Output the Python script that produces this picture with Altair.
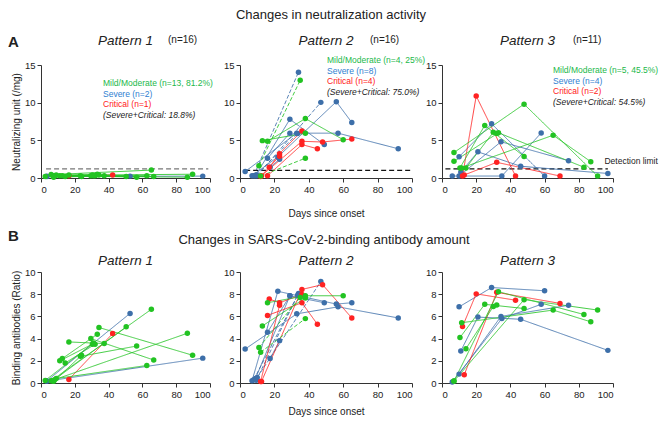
import altair as alt
import pandas as pd

SEVERITY = ["Mild/Moderate", "Severe", "Critical"]
MARK_COLORS = ["#22c322", "#3d6fa9", "#ff2222"]
TEXT_COLORS = ["#22b84a", "#2f80d1", "#ff2020"]
X_TICKS = [0, 20, 40, 60, 80, 100]
NEUT_TICKS = [0, 5, 10, 15]
BIND_TICKS = [0, 2, 4, 6, 8, 10]

M, S, C = "Mild/Moderate", "Severe", "Critical"

# ---------------- Pattern 1 (n=16) ----------------
P1_SEVERITY = [S, S, C] + [M] * 13
P1_DASHED = [0] * 16
P1_DAYS = [[3.3, 52.7], [3.5, 95.7], [16.5, 42.4], [6, 65.3], [7, 50.4], [8, 86.6],
           [9, 62.6], [16.5, 37.4], [11.1, 30.4], [12.6, 33.3], [14.3, 32], [23.3, 56.6],
           [34.3, 89.7], [29.5, 66.7], [2.5, 31], [7.5, 24]]
P1_NEUT = [[0.25, 0.25], [0.2, 0.25], [0.3, 0.4], [0.45, 1.05], [0.3, 0.2], [0.3, 0.1],
           [0.4, 0.3], [0.4, 0.3], [0.3, 0.4], [0.3, 0.5], [0.2, 0.3], [0.3, 0.1],
           [0.4, 0.5], [0.3, 0.2], [0.2, 0.3], [0.1, 0.2]]
P1_BIND = [[0.17, 6.27], [0.17, 2.24], [0.32, 4.45], [0.2, 6.64], [0.2, 5.06], [0.3, 4.48],
           [0.4, 1.58], [3.7, 3.55], [2.0, 3.5], [2.2, 4.4], [1.8, 3.5], [2.4, 3.33],
           [5.0, 2.5], [4.0, 2.07], [0.23, 3.6], [0.15, 2.5]]

# ---------------- Pattern 2 (n=16) ----------------
P2_SEVERITY = [S] * 8 + [C] * 4 + [M] * 4
P2_DASHED = [0, 1, 0, 1, 0, 0, 0, 1, 0, 0, 0, 0, 1, 0, 0, 1]
P2_DAYS = [[3, 33, 57, 92], [8, 34], [9, 29, 49], [10, 47], [7, 22, 56, 65], [16, 29],
           [17.5, 23], [9.5, 33.5],
           [12.5, 36, 48, 65], [16, 36, 45], [17, 23, 36], [12, 23],
           [11, 35], [13, 38], [16, 38, 60], [12, 38]]
P2_NEUT = [[0.86, 5.95, 5.95, 3.88], [0.3, 14.05], [0.3, 7.8, 4.44], [0.3, 10.04],
           [0.3, 2.8, 10.13, 7.37], [2.63, 5.95], [1.42, 2.5], [0.4, 5.9],
           [0.3, 4.87, 4.78, 5.17], [0.3, 4.44, 3.88], [1.42, 3.23, 6.25], [0.2, 2.9],
           [1.64, 12.97], [4.96, 5.95], [4.87, 7.89, 5.09], [0.26, 2.63]]
P2_BIND = [[3.06, 6.23, 6.86, 5.86], [0.3, 8.06], [0.4, 7.86, 7.23], [0.5, 9.14],
           [0.2, 8.26, 7.11, 7.23], [4.57, 7.86], [2.2, 3.8], [0.25, 7.9],
           [0.14, 8.43, 8.86, 5.86], [6.09, 7.23, 5.29], [7.57, 7.23, 7.97], [0.14, 7.0],
           [3.2, 7.71], [5.14, 7.66], [7.23, 7.86, 7.86], [2.77, 5.8]]

# ---------------- Pattern 3 (n=11) ----------------
P3_SEVERITY = [S] * 4 + [C] * 2 + [M] * 5
P3_DASHED = [0] * 11
P3_DAYS = [[10, 29, 60], [11, 21, 46, 97], [10, 34.5, 74], [6, 35, 58],
           [12, 20, 43], [13, 32, 69],
           [14, 30, 32], [10.5, 25, 48], [11.5, 65, 87], [7, 33, 83], [7, 48, 91]]
P3_NEUT = [[2.82, 7.2, 0.26], [0.78, 3.47, 1.56, 0.6], [0.26, 4.81, 2.3], [0.26, 0.26, 5.98],
           [0.26, 10.88, 0.26], [0.4, 2.08, 0.26],
           [1.34, 6.07, 5.9], [1.34, 6.98, 2.86], [1.34, 5.68, 2.17], [2.21, 6.0, 1.43],
           [3.38, 9.8, 0.26]]
P3_BIND = [[6.86, 8.6, 8.31], [2.89, 5.94, 5.74, 2.94], [0.8, 6.0, 7.0], [0.09, 5.8, 7.09],
           [5.09, 8.03, 7.46], [0.74, 8.17, 7.17],
           [3.09, 6.89, 7.03], [4.09, 7.09, 6.71], [5.43, 6.57, 5.51], [0.17, 8.23, 6.17],
           [0.17, 7.51, 6.57]]

# detection limit lines (panel A): [x start, x end, y]
DETECT = {1: [3, 99, 1.22], 2: [3, 99, 1.0], 3: [2, 97, 1.21]}
DETECT_COLOR = {1: "#777777", 2: "#111111", 3: "#111111"}
DETECT_LABEL = ["Detection limit", 95, 1.6]

LEGEND_TEXT = {
    1: ["Mild/Moderate (n=13, 81.2%)", "Severe (n=2)", "Critical (n=1)", "(Severe+Critical: 18.8%)"],
    2: ["Mild/Moderate (n=4, 25%)", "Severe (n=8)", "Critical (n=4)", "(Severe+Critical: 75.0%)"],
    3: ["Mild/Moderate (n=5, 45.5%)", "Severe (n=4)", "Critical (n=2)", "(Severe+Critical: 54.5%)"],
}
N_TEXT = {1: "(n=16)", 2: "(n=16)", 3: "(n=11)"}


def build(sev, dashed, days, neut, bind, tag):
    rows = []
    for i, (s, d, ds, ns, bs) in enumerate(zip(sev, dashed, days, neut, bind)):
        for day, n, b in zip(ds, ns, bs):
            rows.append(dict(pid=f"{tag}-{i}", severity=s,
                             dash="dashed" if d else "solid",
                             day=day, neut=n, bind=b))
    return pd.DataFrame(rows)


DATA = {
    1: build(P1_SEVERITY, P1_DASHED, P1_DAYS, P1_NEUT, P1_BIND, "p1"),
    2: build(P2_SEVERITY, P2_DASHED, P2_DAYS, P2_NEUT, P2_BIND, "p2"),
    3: build(P3_SEVERITY, P3_DASHED, P3_DAYS, P3_NEUT, P3_BIND, "p3"),
}

WIDTHS = {1: 169, 2: 172, 3: 171}
HA, HB = 113, 111


def label(text, x, y, size, color="#222222", align="left", style="normal",
          weight="normal", baseline="middle"):
    return alt.Chart(pd.DataFrame({"t": [text]})).mark_text(
        align=align, baseline=baseline, fontSize=size, fontStyle=style,
        fontWeight=weight, color=color
    ).encode(x=alt.value(x), y=alt.value(y), text="t:N")


def panel(p, field, ymax, yticks, h, ytitle, xtitle, xpad, extra, detect=False):
    df = DATA[p]
    w = WIDTHS[p]
    xenc = alt.X("day:Q", scale=alt.Scale(domain=[0, 100], nice=False),
                 axis=alt.Axis(values=X_TICKS, title=xtitle, titlePadding=xpad,
                               labelOverlap=False))
    yenc = alt.Y(f"{field}:Q", scale=alt.Scale(domain=[0, ymax], nice=False),
                 axis=alt.Axis(values=yticks, title=ytitle, titlePadding=3,
                               labelOverlap=False))
    color = alt.Color("severity:N", scale=alt.Scale(domain=SEVERITY, range=MARK_COLORS),
                      legend=None)
    base = alt.Chart(df)
    lines = base.mark_line(strokeWidth=1, opacity=0.85).encode(
        x=xenc, y=yenc, color=color, detail="pid:N",
        strokeDash=alt.StrokeDash("dash:N", scale=alt.Scale(domain=["solid", "dashed"],
                                                            range=[[1, 0], [4, 2]]),
                                  legend=None))
    pts = base.mark_circle(size=30, opacity=1).encode(x=xenc, y=yenc, color=color)
    layers = []
    if detect:
        x0, x1, yv = DETECT[p]
        d = pd.DataFrame({"day": [x0], "day2": [x1], field: [yv]})
        layers.append(alt.Chart(d).mark_rule(strokeDash=[5, 3], strokeWidth=1.2,
                                             color=DETECT_COLOR[p]).encode(
            x=xenc, x2="day2:Q", y=yenc))
    layers += [lines, pts]
    if detect and p == 3:
        t, dx, dy = DETECT_LABEL
        dt = pd.DataFrame({"day": [dx], field: [dy], "t": [t]})
        layers.append(alt.Chart(dt).mark_text(
            align="left", baseline="bottom", fontSize=8.5, color="#222222"
        ).encode(x=xenc, y=yenc, text="t:N"))
    layers += extra
    return alt.layer(*layers).properties(width=w, height=h)


def legend_layers(p, x, ys):
    out = []
    for i, (t, y) in enumerate(zip(LEGEND_TEXT[p], ys)):
        if i < 3:
            out.append(label(t, x, y, 8.5, color=TEXT_COLORS[i]))
        else:
            out.append(label(t, x, y, 8.5, color="#222222", style="italic"))
    return out


# ---------------- Row A ----------------
a1_extra = legend_layers(1, 62, [18, 28.5, 39, 49.5]) + [
    label("A", -33, -23, 15, weight="bold"),
    label("Pattern 1", WIDTHS[1] / 2, -24, 13.5, align="center", style="italic"),
    label(N_TEXT[1], 127, -25, 10),
]
a2_extra = legend_layers(2, 87, [-5, 5.5, 16, 26.5]) + [
    label("Changes in neutralization activity", 91, -50, 13, align="center"),
    label("Pattern 2", WIDTHS[2] / 2, -24, 13.5, align="center", style="italic"),
    label(N_TEXT[2], 130, -25, 10),
]
a3_extra = legend_layers(3, 111, [5, 15.5, 26, 36.5]) + [
    label("Pattern 3", WIDTHS[3] / 2, -24, 13.5, align="center", style="italic"),
    label(N_TEXT[3], 131, -25, 10),
]

a1 = panel(1, "neut", 15, NEUT_TICKS, HA, "Neutralizing unit (/mg)", None, 0, a1_extra, True)
a2 = panel(2, "neut", 15, NEUT_TICKS, HA, None, "Days since onset", 15, a2_extra, True)
a3 = panel(3, "neut", 15, NEUT_TICKS, HA, None, None, 0, a3_extra, True)

# ---------------- Row B ----------------
b1_extra = [
    label("B", -33, -36, 15, weight="bold"),
    label("Pattern 1", WIDTHS[1] / 2, -11, 13.5, align="center", style="italic"),
]
b2_extra = [
    label("Changes in SARS-CoV-2-binding antibody amount", 84, -32, 13, align="center"),
    label("Pattern 2", WIDTHS[2] / 2, -11, 13.5, align="center", style="italic"),
]
b3_extra = [
    label("Pattern 3", WIDTHS[3] / 2, -11, 13.5, align="center", style="italic"),
]

b1 = panel(1, "bind", 10, BIND_TICKS, HB, "Binding antibodies (Ratio)", None, 0, b1_extra)
b2 = panel(2, "bind", 10, BIND_TICKS, HB, None, "Days since onset", 8, b2_extra)
b3 = panel(3, "bind", 10, BIND_TICKS, HB, None, None, 0, b3_extra)

chart = alt.concat(
    a1, a2, a3, b1, b2, b3, columns=3,
    spacing={"row": 94, "column": 30}, bounds="flush"
).properties(padding={"top": 1, "left": 0, "right": 0, "bottom": 0}).configure(
    font="Liberation Sans"
).configure_view(stroke=None).configure_axis(
    grid=False, labelFontSize=9.5, titleFontSize=10, labelColor="#222222",
    titleColor="#222222", titleFontWeight="normal", domainColor="#333333",
    tickColor="#333333", tickSize=4, labelPadding=2
)

chart.save("out.html", embed_options={"renderer": "svg", "actions": False})
